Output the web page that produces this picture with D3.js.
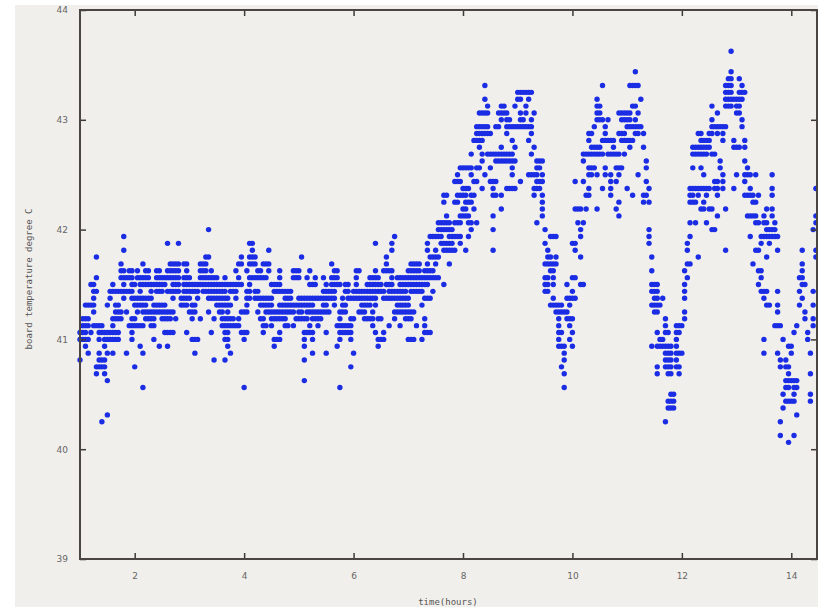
<!DOCTYPE html>
<html>
<head>
<meta charset="utf-8">
<script src="https://cdn.jsdelivr.net/npm/d3@7"></script>
<style>
  body { margin: 0; background: #fff; }
  .tick text { font-family: "DejaVu Sans", sans-serif; font-size: 9px; fill: #666; }
  .label { font-family: "DejaVu Sans Mono", monospace; font-size: 9px; fill: #555; }
</style>
</head>
<body>
<div id="chart"></div>
<script>
// board temperature, sampled every 3 minutes from hour 1 (sample 0)
var startHour = 1;
var sampleMinutes = 3;

// temperature levels (sensor resolution 1/16 degree) and the samples read at each level
var levelTemps = [
  43.625, 43.4375, 43.375, 43.3125, 43.25, 43.1875, 43.125, 43.0625, 43.0,
  42.9375, 42.875, 42.8125, 42.75, 42.6875, 42.625, 42.5625, 42.5, 42.4375,
  42.375, 42.3125, 42.25, 42.1875, 42.125, 42.0625, 42.0, 41.9375, 41.875,
  41.8125, 41.75, 41.6875, 41.625, 41.5625, 41.5, 41.4375, 41.375, 41.3125,
  41.25, 41.1875, 41.125, 41.0625, 41.0, 40.9375, 40.875, 40.8125, 40.75,
  40.6875, 40.625, 40.5625, 40.5, 40.4375, 40.375, 40.3125, 40.25, 40.125, 40.0625
];

var levelSamples = [
  [238],
  [203,238],
  [237,238,241],
  [148,191,201,202,203,204,236,237,238,242],
  [160,161,162,163,164,165,236,237,238,241,242,243],
  [148,160,161,164,189,205,236,237,238,239,240,241,242],
  [149,154,155,159,163,189,190,202,203,231,236,237,238,240,241],
  [146,147,148,149,153,154,155,156,161,163,166,189,190,197,198,199,200,201,204,233,240,241],
  [154,156,157,161,162,165,189,190,191,193,198,199,200,201,203,231,242],
  [145,146,147,148,149,152,153,156,157,158,159,160,161,162,163,164,165,188,192,200,201,202,203,204,205,231,232,233,234,235,236,242],
  [145,146,147,148,149,150,156,165,186,187,192,197,198,199,203,204,206,226,227,230,231,233,235],
  [144,145,146,147,158,164,186,191,192,193,194,195,198,199,200,201,202,227,228,229,230,235,239,243],
  [146,154,159,166,187,188,189,190,195,201,206,224,225,226,227,228,229,230,239,240,241,243],
  [143,147,149,150,151,152,153,154,155,156,157,158,165,184,185,186,187,188,189,190,191,193,194,195,196,197,199,224,225,226,227,228,229,231,232],
  [147,152,153,154,155,156,157,158,159,167,168,169,184,207,234,243],
  [139,140,141,142,143,145,146,150,158,167,168,186,187,188,192,196,197,198,207,224,227,234,244],
  [138,143,148,158,164,165,166,167,169,186,187,189,192,194,197,204,228,235,240,243,244,245,247,253],
  [137,138,139,144,145,150,151,152,161,167,168,169,181,184,194,196,207,232,233,235,243],
  [140,141,142,147,151,156,157,158,159,166,167,168,186,191,194,200,208,223,224,225,226,227,228,229,230,232,233,235,239,245,253,269],
  [133,134,138,139,140,141,143,144,151,152,154,166,169,185,186,194,202,206,207,223,224,226,229,233,243,244,245,246,248,253],
  [133,137,138,141,142,143,169,197,206,208,223,224,225,228,246,247],
  [140,141,144,154,169,181,182,183,185,189,196,227,228,230,231,236,251,253],
  [134,139,140,141,142,151,169,197,233,244,245,246,247,250,253,269],
  [131,132,133,134,135,137,138,139,142,143,145,167,182,184,223,225,229,247,248,250,251,254,269],
  [47,131,132,133,134,135,136,143,151,170,183,208,231,232,251,252,253,254,268],
  [16,115,128,129,130,131,132,135,136,137,138,139,142,172,173,174,183,208,223,245,249,250,251,252,253,254,255],
  [32,36,62,63,108,114,127,132,133,134,135,136,139,170,180,181,208,222,249,252],
  [16,63,69,114,127,130,133,134,135,136,137,141,151,171,181,222,236,247,248,255,264,269],
  [6,46,47,59,62,63,64,81,112,128,129,130,131,171,172,174,183,209,226,251,269],
  [15,23,33,34,35,36,38,39,44,45,46,58,59,62,63,64,67,68,69,92,112,121,122,123,124,127,130,135,170,171,172,173,174,222,223,246,264],
  [15,16,18,19,21,24,25,28,29,32,33,34,35,36,39,44,45,46,48,57,61,65,66,69,73,78,79,80,84,93,94,101,102,108,111,112,113,114,120,121,122,123,124,126,127,128,129,172,173,209,221,248,249,264],
  [6,15,16,17,18,19,21,22,23,24,25,28,29,30,31,32,33,34,35,36,38,39,40,44,45,46,47,48,49,50,53,58,62,63,64,65,66,67,68,73,78,79,80,83,86,89,92,93,94,101,106,107,108,109,114,116,117,118,119,120,121,122,123,124,125,126,127,128,129,130,131,170,171,173,180,181,222,249,263,264],
  [4,5,12,16,19,20,22,23,24,25,26,27,28,29,30,31,34,35,36,38,39,40,41,42,43,44,45,46,47,48,49,50,51,52,53,54,55,56,57,58,59,62,70,71,72,73,84,85,86,90,92,93,94,95,97,98,101,105,106,107,108,109,110,112,113,114,117,118,119,120,121,122,123,124,125,126,127,133,170,171,173,178,183,184,209,210,211,221,248,264,265],
  [5,6,11,12,13,14,15,16,17,18,19,22,26,28,29,30,32,33,34,35,36,38,39,40,41,42,43,45,46,47,48,49,50,51,52,53,55,56,57,61,62,64,65,71,72,73,74,75,76,77,89,90,91,92,93,97,98,100,101,102,103,104,105,106,107,108,109,110,111,113,114,115,116,117,118,119,121,122,123,124,125,129,170,171,180,209,210,211,221,249,250,251,255,263,268],
  [5,11,16,19,20,21,22,23,24,25,26,34,37,38,39,40,43,47,48,49,50,51,52,53,54,57,61,62,64,65,66,67,68,69,70,75,76,77,80,81,82,83,84,85,86,87,88,89,90,91,92,93,96,98,99,100,101,102,103,104,105,106,107,108,111,112,113,114,115,116,117,118,119,120,126,127,128,173,178,179,180,181,210,211,213,221,250,264],
  [2,3,4,5,10,13,14,20,21,22,23,24,27,28,29,30,31,37,38,39,41,42,50,51,52,53,54,55,61,66,67,68,69,70,73,74,75,76,77,78,79,80,81,82,83,84,85,89,90,93,96,97,103,104,105,106,108,116,117,118,119,120,125,172,173,174,175,176,179,209,210,211,212,251,252,255,263,268],
  [5,13,14,15,17,21,23,24,25,26,27,28,29,30,31,32,33,34,40,41,42,47,51,52,54,59,60,61,65,68,69,70,71,72,73,74,75,76,77,78,80,81,83,84,85,86,87,88,89,90,91,95,96,97,102,103,104,107,115,116,117,118,119,120,121,122,174,175,176,177,178,210,211,221,255,265],
  [1,2,3,12,13,14,15,19,20,24,25,26,27,30,31,32,33,35,41,44,49,52,53,54,55,56,58,66,67,70,71,72,73,74,75,79,80,81,82,83,85,86,87,88,95,99,100,104,105,106,107,109,110,115,119,120,121,126,175,178,179,180,214,221,265,268],
  [1,2,3,5,6,7,8,12,18,19,20,21,22,23,26,27,52,53,54,55,56,57,58,67,68,70,75,76,78,84,87,94,95,96,97,98,99,107,113,117,123,126,175,179,214,218,219,220,254,255,256,262,268],
  [0,1,2,4,7,8,9,10,11,12,13,14,19,31,32,33,34,39,48,53,54,59,60,61,67,73,82,83,84,85,90,95,96,97,98,99,108,111,126,127,128,175,176,180,211,214,215,218,219,261,266],
  [0,1,2,3,7,9,10,11,12,13,14,19,27,41,42,43,53,54,60,71,72,73,82,85,95,99,109,110,111,120,121,122,125,175,179,212,213,218,250,257,266],
  [2,9,22,29,32,54,71,82,94,109,175,176,177,180,209,211,212,213,214,215,216,218,259,260],
  [3,7,10,12,17,23,42,55,85,90,100,177,214,215,216,218,219,220,250,255,260,267],
  [0,7,8,9,49,53,82,177,214,215,216,218,256,258],
  [6,7,8,9,20,99,176,211,214,215,216,218,219,256,258,259],
  [6,9,177,211,215,216,219,259,267],
  [10,82,258,259,260,261,262],
  [23,60,95,177,258,259,261,262],
  [216,217,257,261,267],
  [215,216,217,258,259,260,261,267],
  [215,216,217,257],
  [10,262],
  [8,214,256],
  [256,261],
  [259]
];

var xTicks = [2, 4, 6, 8, 10, 12, 14];
var yTicks = [39, 40, 41, 42, 43, 44];

var data = [];
levelTemps.forEach(function(temp, j) {
  levelSamples[j].forEach(function(s) {
    data.push({ time: startHour + s * sampleMinutes / 60, temp: temp });
  });
});

var W = 818, H = 607;
var margin = {top: 10, right: 1, bottom: 48, left: 80},
  width = W - margin.left - margin.right,
  height = H - margin.top - margin.bottom;

var x = d3.scaleLinear().domain([1, 14.47]).range([0, width]);
var y = d3.scaleLinear().domain([39, 44]).range([height, 0]);

var svg = d3.select("#chart").append("svg")
  .attr("width", W)
  .attr("height", H);

// beige page
svg.append("rect")
  .attr("x", 15).attr("y", 5)
  .attr("width", W - 15).attr("height", H - 5)
  .attr("fill", "#f1efeb");

var g = svg.append("g")
  .attr("transform", "translate(" + margin.left + "," + margin.top + ")");

// points
g.append("g").selectAll("circle")
  .data(data)
  .enter().append("circle")
    .attr("cx", function(d) { return x(d.time); })
    .attr("cy", function(d) { return y(d.temp); })
    .attr("r", 2.7)
    .attr("fill", "#1b2de4");

// axes, ticks pointing inward
var fmt = d3.format("d");
var axB = g.append("g")
  .attr("transform", "translate(0," + height + ")")
  .call(d3.axisBottom(x).tickValues(xTicks).tickFormat(fmt).tickSize(-6).tickPadding(14));
var axL = g.append("g")
  .call(d3.axisLeft(y).tickValues(yTicks).tickFormat(fmt).tickSize(-6).tickPadding(12));
var axT = g.append("g")
  .call(d3.axisTop(x).tickValues(xTicks).tickSize(-6).tickFormat(""));
var axR = g.append("g")
  .attr("transform", "translate(" + width + ",0)")
  .call(d3.axisRight(y).tickValues(yTicks).tickSize(-6).tickFormat(""));

[axB, axL, axT, axR].forEach(function(a) {
  a.select(".domain").remove();
  a.selectAll(".tick line").attr("stroke", "#3f3b37").attr("stroke-width", 1.5);
});

// frame
g.append("rect")
  .attr("width", width).attr("height", height)
  .attr("fill", "none")
  .attr("stroke", "#4a4541")
  .attr("stroke-width", 2);

// axis titles
svg.append("text")
  .attr("class", "label")
  .attr("x", 448).attr("y", 605)
  .attr("text-anchor", "middle")
  .text("time(hours)");

svg.append("text")
  .attr("class", "label")
  .attr("transform", "translate(32,279) rotate(-90)")
  .attr("text-anchor", "middle")
  .text("board temperature degree C");
</script>
</body>
</html>
